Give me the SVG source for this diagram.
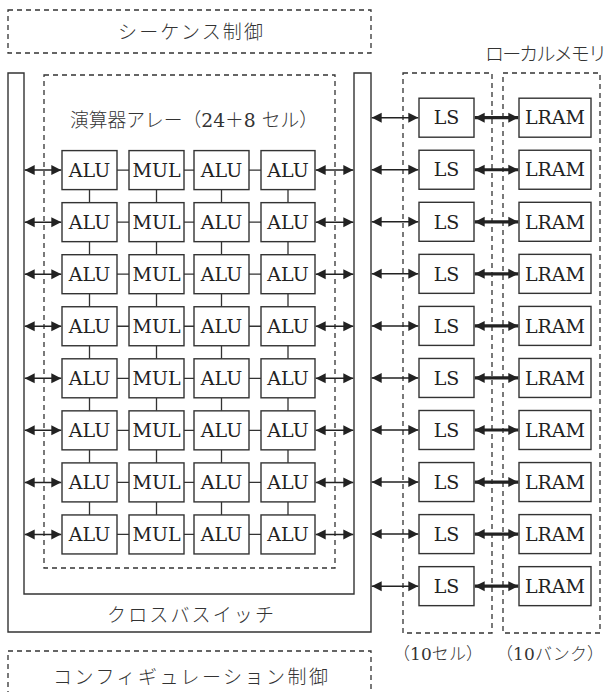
<svg xmlns="http://www.w3.org/2000/svg" width="609" height="692" viewBox="0 0 609 692">
<style>
.bg{fill:#ffffff}
.dash{fill:none;stroke:#333;stroke-width:1.3;stroke-dasharray:5 4}
.box{fill:#fff;stroke:#333;stroke-width:1.4}
.wall{fill:none;stroke:#333;stroke-width:1.4}
.ln{stroke:#333;stroke-width:1.3;fill:none}
.arr{stroke:#222;stroke-width:1.5;fill:none;marker-start:url(#ah);marker-end:url(#ah)}
.arrb{stroke:#222;stroke-width:3.2;fill:none;marker-start:url(#ah);marker-end:url(#ah)}
.lat{font-family:"DejaVu Serif","Liberation Serif",serif;font-size:19px;fill:#222;text-anchor:middle}
.jp{font-family:"DejaVu Serif","Noto Sans CJK JP",serif;font-size:19px;fill:#333;font-weight:300}
.jps{font-family:"DejaVu Serif","Noto Sans CJK JP",serif;font-size:17px;fill:#333;font-weight:300}
</style>
<defs>
<marker id="ah" viewBox="0 0 10 10" refX="10" refY="5" markerWidth="10" markerHeight="11" markerUnits="userSpaceOnUse" orient="auto-start-reverse">
<path d="M0,0 L10,5 L0,10 Z" fill="#222"/>
</marker>
</defs>
<rect class="bg" x="0" y="0" width="609" height="692"/>

<g id="sequence-control">
<rect class="dash" x="8" y="10" width="363" height="43"/>
<text class="jp" x="118" y="39" textLength="145" lengthAdjust="spacing">シーケンス制御</text>
</g>

<g id="crossbar">
<path class="wall" d="M8,73 V632 H371 V73 H354 V594 H24 V73 Z"/>
<text class="jp" x="107" y="622" textLength="167" lengthAdjust="spacing">クロスバスイッチ</text>
</g>

<g id="alu-array">
<rect class="dash" x="44" y="75" width="291" height="493"/>
<text class="jp" x="70" y="127" textLength="248" lengthAdjust="spacingAndGlyphs">演算器アレー（24＋8 セル）</text>
</g>

<g id="config-control">
<rect class="dash" x="8" y="651" width="363" height="60"/>
<text class="jp" x="53" y="684" textLength="275" lengthAdjust="spacing">コンフィギュレーション制御</text>
</g>

<g id="ls-group">
<rect class="dash" x="403" y="73" width="89" height="560"/>
<text class="jps" x="393" y="660" textLength="90" lengthAdjust="spacing">（10セル）</text>
</g>

<g id="lram-group">
<rect class="dash" x="503" y="73" width="97" height="560"/>
<text class="jp" x="485" y="61" textLength="122" lengthAdjust="spacing">ローカルメモリ</text>
<text class="jps" x="496" y="660" textLength="108" lengthAdjust="spacing">（10バンク）</text>
</g>

<g id="connectors">
<path class="ln" d="M117,170.1 H129 M184,170.1 H194 M249,170.1 H261
M117,222.15 H129 M184,222.15 H194 M249,222.15 H261
M117,274.2 H129 M184,274.2 H194 M249,274.2 H261
M117,326.25 H129 M184,326.25 H194 M249,326.25 H261
M117,378.3 H129 M184,378.3 H194 M249,378.3 H261
M117,430.35 H129 M184,430.35 H194 M249,430.35 H261
M117,482.4 H129 M184,482.4 H194 M249,482.4 H261
M117,534.45 H129 M184,534.45 H194 M249,534.45 H261"/>
<path class="ln" d="M89.5,189.6 V202.65 M156.5,189.6 V202.65 M221.5,189.6 V202.65 M288,189.6 V202.65
M89.5,241.65 V254.7 M156.5,241.65 V254.7 M221.5,241.65 V254.7 M288,241.65 V254.7
M89.5,293.7 V306.75 M156.5,293.7 V306.75 M221.5,293.7 V306.75 M288,293.7 V306.75
M89.5,345.75 V358.8 M156.5,345.75 V358.8 M221.5,345.75 V358.8 M288,345.75 V358.8
M89.5,397.8 V410.85 M156.5,397.8 V410.85 M221.5,397.8 V410.85 M288,397.8 V410.85
M89.5,449.85 V462.9 M156.5,449.85 V462.9 M221.5,449.85 V462.9 M288,449.85 V462.9
M89.5,501.9 V514.95 M156.5,501.9 V514.95 M221.5,501.9 V514.95 M288,501.9 V514.95"/>
<line class="arr" x1="24.7" y1="170.1" x2="61.3" y2="170.1"/>
<line class="arr" x1="24.7" y1="222.15" x2="61.3" y2="222.15"/>
<line class="arr" x1="24.7" y1="274.2" x2="61.3" y2="274.2"/>
<line class="arr" x1="24.7" y1="326.25" x2="61.3" y2="326.25"/>
<line class="arr" x1="24.7" y1="378.3" x2="61.3" y2="378.3"/>
<line class="arr" x1="24.7" y1="430.35" x2="61.3" y2="430.35"/>
<line class="arr" x1="24.7" y1="482.4" x2="61.3" y2="482.4"/>
<line class="arr" x1="24.7" y1="534.45" x2="61.3" y2="534.45"/>
<line class="arr" x1="315.7" y1="170.1" x2="353.3" y2="170.1"/>
<line class="arr" x1="315.7" y1="222.15" x2="353.3" y2="222.15"/>
<line class="arr" x1="315.7" y1="274.2" x2="353.3" y2="274.2"/>
<line class="arr" x1="315.7" y1="326.25" x2="353.3" y2="326.25"/>
<line class="arr" x1="315.7" y1="378.3" x2="353.3" y2="378.3"/>
<line class="arr" x1="315.7" y1="430.35" x2="353.3" y2="430.35"/>
<line class="arr" x1="315.7" y1="482.4" x2="353.3" y2="482.4"/>
<line class="arr" x1="315.7" y1="534.45" x2="353.3" y2="534.45"/>
<line class="arr" x1="371.7" y1="117.7" x2="418.3" y2="117.7"/>
<line class="arr" x1="371.7" y1="169.75" x2="418.3" y2="169.75"/>
<line class="arr" x1="371.7" y1="221.8" x2="418.3" y2="221.8"/>
<line class="arr" x1="371.7" y1="273.85" x2="418.3" y2="273.85"/>
<line class="arr" x1="371.7" y1="325.9" x2="418.3" y2="325.9"/>
<line class="arr" x1="371.7" y1="377.95" x2="418.3" y2="377.95"/>
<line class="arr" x1="371.7" y1="430" x2="418.3" y2="430"/>
<line class="arr" x1="371.7" y1="482.05" x2="418.3" y2="482.05"/>
<line class="arr" x1="371.7" y1="534.1" x2="418.3" y2="534.1"/>
<line class="arr" x1="371.7" y1="586.15" x2="418.3" y2="586.15"/>
<line class="arrb" x1="474.7" y1="117.7" x2="518.3" y2="117.7"/>
<line class="arrb" x1="474.7" y1="169.75" x2="518.3" y2="169.75"/>
<line class="arrb" x1="474.7" y1="221.8" x2="518.3" y2="221.8"/>
<line class="arrb" x1="474.7" y1="273.85" x2="518.3" y2="273.85"/>
<line class="arrb" x1="474.7" y1="325.9" x2="518.3" y2="325.9"/>
<line class="arrb" x1="474.7" y1="377.95" x2="518.3" y2="377.95"/>
<line class="arrb" x1="474.7" y1="430" x2="518.3" y2="430"/>
<line class="arrb" x1="474.7" y1="482.05" x2="518.3" y2="482.05"/>
<line class="arrb" x1="474.7" y1="534.1" x2="518.3" y2="534.1"/>
<line class="arrb" x1="474.7" y1="586.15" x2="518.3" y2="586.15"/>
</g>

<g id="array-cells">
<g id="r1"><rect class="box" x="62" y="150.6" width="55" height="39"/><text class="lat" x="89.5" y="176.8">ALU</text><rect class="box" x="129" y="150.6" width="55" height="39"/><text class="lat" x="156.5" y="176.8">MUL</text><rect class="box" x="194" y="150.6" width="55" height="39"/><text class="lat" x="221.5" y="176.8">ALU</text><rect class="box" x="261" y="150.6" width="54" height="39"/><text class="lat" x="288" y="176.8">ALU</text></g>
<g id="r2"><rect class="box" x="62" y="202.65" width="55" height="39"/><text class="lat" x="89.5" y="228.85">ALU</text><rect class="box" x="129" y="202.65" width="55" height="39"/><text class="lat" x="156.5" y="228.85">MUL</text><rect class="box" x="194" y="202.65" width="55" height="39"/><text class="lat" x="221.5" y="228.85">ALU</text><rect class="box" x="261" y="202.65" width="54" height="39"/><text class="lat" x="288" y="228.85">ALU</text></g>
<g id="r3"><rect class="box" x="62" y="254.7" width="55" height="39"/><text class="lat" x="89.5" y="280.9">ALU</text><rect class="box" x="129" y="254.7" width="55" height="39"/><text class="lat" x="156.5" y="280.9">MUL</text><rect class="box" x="194" y="254.7" width="55" height="39"/><text class="lat" x="221.5" y="280.9">ALU</text><rect class="box" x="261" y="254.7" width="54" height="39"/><text class="lat" x="288" y="280.9">ALU</text></g>
<g id="r4"><rect class="box" x="62" y="306.75" width="55" height="39"/><text class="lat" x="89.5" y="332.95">ALU</text><rect class="box" x="129" y="306.75" width="55" height="39"/><text class="lat" x="156.5" y="332.95">MUL</text><rect class="box" x="194" y="306.75" width="55" height="39"/><text class="lat" x="221.5" y="332.95">ALU</text><rect class="box" x="261" y="306.75" width="54" height="39"/><text class="lat" x="288" y="332.95">ALU</text></g>
<g id="r5"><rect class="box" x="62" y="358.8" width="55" height="39"/><text class="lat" x="89.5" y="385">ALU</text><rect class="box" x="129" y="358.8" width="55" height="39"/><text class="lat" x="156.5" y="385">MUL</text><rect class="box" x="194" y="358.8" width="55" height="39"/><text class="lat" x="221.5" y="385">ALU</text><rect class="box" x="261" y="358.8" width="54" height="39"/><text class="lat" x="288" y="385">ALU</text></g>
<g id="r6"><rect class="box" x="62" y="410.85" width="55" height="39"/><text class="lat" x="89.5" y="437.05">ALU</text><rect class="box" x="129" y="410.85" width="55" height="39"/><text class="lat" x="156.5" y="437.05">MUL</text><rect class="box" x="194" y="410.85" width="55" height="39"/><text class="lat" x="221.5" y="437.05">ALU</text><rect class="box" x="261" y="410.85" width="54" height="39"/><text class="lat" x="288" y="437.05">ALU</text></g>
<g id="r7"><rect class="box" x="62" y="462.9" width="55" height="39"/><text class="lat" x="89.5" y="489.1">ALU</text><rect class="box" x="129" y="462.9" width="55" height="39"/><text class="lat" x="156.5" y="489.1">MUL</text><rect class="box" x="194" y="462.9" width="55" height="39"/><text class="lat" x="221.5" y="489.1">ALU</text><rect class="box" x="261" y="462.9" width="54" height="39"/><text class="lat" x="288" y="489.1">ALU</text></g>
<g id="r8"><rect class="box" x="62" y="514.95" width="55" height="39"/><text class="lat" x="89.5" y="541.15">ALU</text><rect class="box" x="129" y="514.95" width="55" height="39"/><text class="lat" x="156.5" y="541.15">MUL</text><rect class="box" x="194" y="514.95" width="55" height="39"/><text class="lat" x="221.5" y="541.15">ALU</text><rect class="box" x="261" y="514.95" width="54" height="39"/><text class="lat" x="288" y="541.15">ALU</text></g>
</g>

<g id="ls-cells">
<g id="ls1"><rect class="box" x="419" y="98.2" width="55" height="39"/><text class="lat" x="446.5" y="124.4">LS</text></g>
<g id="ls2"><rect class="box" x="419" y="150.25" width="55" height="39"/><text class="lat" x="446.5" y="176.45">LS</text></g>
<g id="ls3"><rect class="box" x="419" y="202.3" width="55" height="39"/><text class="lat" x="446.5" y="228.5">LS</text></g>
<g id="ls4"><rect class="box" x="419" y="254.35" width="55" height="39"/><text class="lat" x="446.5" y="280.55">LS</text></g>
<g id="ls5"><rect class="box" x="419" y="306.4" width="55" height="39"/><text class="lat" x="446.5" y="332.6">LS</text></g>
<g id="ls6"><rect class="box" x="419" y="358.45" width="55" height="39"/><text class="lat" x="446.5" y="384.65">LS</text></g>
<g id="ls7"><rect class="box" x="419" y="410.5" width="55" height="39"/><text class="lat" x="446.5" y="436.7">LS</text></g>
<g id="ls8"><rect class="box" x="419" y="462.55" width="55" height="39"/><text class="lat" x="446.5" y="488.75">LS</text></g>
<g id="ls9"><rect class="box" x="419" y="514.6" width="55" height="39"/><text class="lat" x="446.5" y="540.8">LS</text></g>
<g id="ls10"><rect class="box" x="419" y="566.65" width="55" height="39"/><text class="lat" x="446.5" y="592.85">LS</text></g>
</g>

<g id="lram-cells">
<g id="lram1"><rect class="box" x="519" y="98.2" width="72" height="39"/><text class="lat" x="555" y="124.4">LRAM</text></g>
<g id="lram2"><rect class="box" x="519" y="150.25" width="72" height="39"/><text class="lat" x="555" y="176.45">LRAM</text></g>
<g id="lram3"><rect class="box" x="519" y="202.3" width="72" height="39"/><text class="lat" x="555" y="228.5">LRAM</text></g>
<g id="lram4"><rect class="box" x="519" y="254.35" width="72" height="39"/><text class="lat" x="555" y="280.55">LRAM</text></g>
<g id="lram5"><rect class="box" x="519" y="306.4" width="72" height="39"/><text class="lat" x="555" y="332.6">LRAM</text></g>
<g id="lram6"><rect class="box" x="519" y="358.45" width="72" height="39"/><text class="lat" x="555" y="384.65">LRAM</text></g>
<g id="lram7"><rect class="box" x="519" y="410.5" width="72" height="39"/><text class="lat" x="555" y="436.7">LRAM</text></g>
<g id="lram8"><rect class="box" x="519" y="462.55" width="72" height="39"/><text class="lat" x="555" y="488.75">LRAM</text></g>
<g id="lram9"><rect class="box" x="519" y="514.6" width="72" height="39"/><text class="lat" x="555" y="540.8">LRAM</text></g>
<g id="lram10"><rect class="box" x="519" y="566.65" width="72" height="39"/><text class="lat" x="555" y="592.85">LRAM</text></g>
</g>
</svg>
